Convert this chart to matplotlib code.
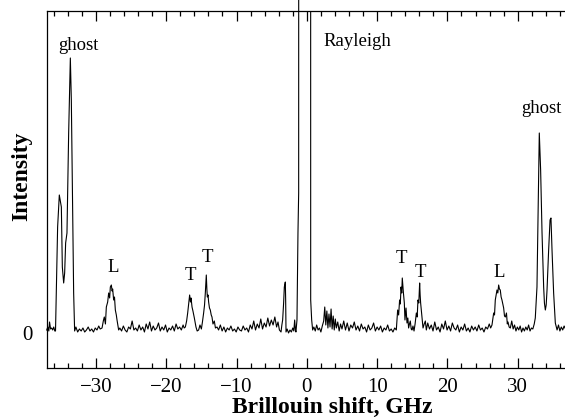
import matplotlib
matplotlib.use('Agg')
import matplotlib.pyplot as plt
from matplotlib.ticker import MultipleLocator
import numpy as np

plt.rcParams['font.family'] = ['Liberation Serif', 'DejaVu Serif']

# Brillouin spectrum (shift in GHz, intensity in arb. units)
shift = np.array([
    # left edge + ghost
    -37.0, -36.85, -36.7, -36.6, -36.45, -36.3, -36.15, -36.0, -35.85, -35.75,
    -35.45, -35.21, -34.92, -34.78, -34.59, -34.45, -34.31, -34.12, -33.88, -33.64,
    -33.50, -33.31, -33.17, -33.03,
    -32.85, -32.6, -32.35, -32.1, -31.85, -31.6, -31.35, -31.1, -30.85, -30.6,
    -30.35, -30.1, -29.85, -29.6, -29.4,
    # L
    -29.13, -28.95, -28.81, -28.65, -28.52, -28.33, -28.19, -28.05, -27.95, -27.81,
    -27.7, -27.62, -27.48, -27.36, -27.24, -27.1, -27.0, -26.88, -26.77,
    -26.6, -26.35, -26.1, -25.85, -25.6, -25.35, -25.1, -24.85, -24.6, -24.35,
    -24.1, -23.85, -23.6, -23.35, -23.1, -22.85, -22.6, -22.35, -22.1, -21.85,
    -21.6, -21.35, -21.1, -20.85, -20.6, -20.35, -20.1, -19.85, -19.6, -19.35,
    -19.1, -18.85, -18.6, -18.35, -18.1, -17.85, -17.6, -17.45,
    # T, T
    -17.28, -17.1, -16.95, -16.8, -16.67, -16.55, -16.47, -16.33, -16.2, -16.0,
    -15.88, -15.77, -15.6, -15.39, -15.2, -15.0, -14.85, -14.68, -14.55, -14.44,
    -14.30, -14.22, -14.15, -14.05, -13.97, -13.85, -13.73, -13.6, -13.49, -13.35,
    -13.16, -13.0, -12.77,
    -12.55, -12.3, -12.05, -11.8, -11.55, -11.3, -11.05, -10.8, -10.55, -10.3,
    -10.05, -9.8, -9.55, -9.3, -9.05, -8.8, -8.55, -8.3, -8.05, -7.8,
    -7.55, -7.3, -7.05, -6.8, -6.55, -6.3, -6.05, -5.8, -5.55, -5.3,
    -5.05, -4.8, -4.55, -4.3, -4.1, -3.9, -3.67,
    -3.55, -3.44, -3.30, -3.20, -3.06, -3.01, -2.96,
    -2.8, -2.6, -2.4, -2.2, -2.0, -1.85, -1.73, -1.62, -1.55, -1.40,
    -1.26, -1.16, -1.15,
    # Rayleigh right flank
    0.54, 0.55, 0.69, 0.83,
    1.0, 1.2, 1.4, 1.6, 1.8, 2.0, 2.2, 2.4, 2.55, 2.7,
    2.85, 3.0, 3.15, 3.3, 3.45, 3.6, 3.75, 3.9, 4.05, 4.2,
    4.4, 4.6, 4.8, 5.0, 5.25, 5.5, 5.75, 6.0, 6.25, 6.5,
    6.75, 7.0, 7.25, 7.5, 7.75, 8.0, 8.25, 8.5, 8.75, 9.0,
    9.25, 9.5, 9.75, 10.0, 10.25, 10.5, 10.75, 11.0, 11.25, 11.5,
    11.75, 12.0, 12.25, 12.5, 12.73,
    # T, T
    12.92, 13.06, 13.2, 13.3, 13.4, 13.5, 13.58, 13.73, 13.87, 13.96,
    14.11, 14.25, 14.37, 14.48, 14.6, 14.72, 14.85, 14.96, 15.1, 15.25,
    15.4, 15.58, 15.7, 15.81, 15.93, 16.05, 16.12, 16.19, 16.33, 16.43,
    16.53, 16.7, 16.86, 17.0,
    17.2, 17.45, 17.7, 17.95, 18.2, 18.45, 18.7, 18.95, 19.2, 19.45,
    19.7, 19.95, 20.2, 20.45, 20.7, 20.95, 21.2, 21.45, 21.7, 21.95,
    22.2, 22.45, 22.7, 22.95, 23.2, 23.45, 23.7, 23.95, 24.2, 24.45,
    24.7, 24.95, 25.2, 25.45, 25.7, 25.95, 26.15,
    # L
    26.34, 26.46, 26.58, 26.7, 26.81, 26.93, 27.05, 27.17, 27.29, 27.4,
    27.52, 27.64, 27.76, 27.88, 28.0, 28.12, 28.24, 28.4, 28.52, 28.62,
    28.78, 28.95,
    29.15, 29.35, 29.55, 29.75, 29.95, 30.15, 30.35, 30.55, 30.75, 30.95,
    31.15, 31.35, 31.55, 31.75, 31.95, 32.15, 32.35,
    # ghost
    32.5, 32.74, 32.93, 33.07, 33.26, 33.46, 33.69, 33.8, 33.93, 34.05,
    34.17, 34.4, 34.6, 34.73, 34.8, 34.88, 35.11, 35.35, 35.6,
    35.8, 36.0, 36.2, 36.4, 36.6, 36.8,
])

intensity = np.array([
    3, 6, 2, 11, 4, 5, 3, 6, 2, 2,
    106, 138, 126, 66, 50, 60, 90, 100, 200, 275,
    233, 126, 40, 2,
    6, 1, 4, 2, 5, 1, 3, 6, 2, 4,
    1, 5, 3, 7, 4,
    5, 12, 16, 9, 26, 31, 40, 35, 46, 48,
    42, 44, 33, 36, 23, 18, 13, 8, 3,
    5, 2, 7, 3, 1, 6, 4, 12, 3, 5,
    2, 8, 3, 6, 1, 9, 4, 11, 2, 7,
    3, 5, 10, 2, 6, 3, 8, 1, 5, 3,
    7, 2, 9, 4, 6, 3, 8, 5,
    6, 12, 20, 30, 38, 31, 35, 26, 22, 15,
    10, 6, 2, 3, 8, 4, 11, 20, 28, 40,
    58, 44, 36, 38, 31, 25, 23, 18, 16, 9,
    12, 5, 6,
    3, 8, 2, 6, 1, 5, 3, 7, 2, 4,
    1, 6, 3, 2, 7, 3, 5, 1, 8, 4,
    12, 3, 9, 5, 14, 4, 10, 6, 15, 7,
    13, 8, 16, 6, 11, 3, 1,
    8, 13, 30, 46, 51, 33, 1,
    4, 0, 3, 1, 5, 2, 13, 3, 1, 13,
    100, 140, 700,
    700, 33, 13, 3,
    6, 2, 8, 3, 5, 1, 7, 12, 26, 8,
    22, 5, 19, 6, 24, 4, 17, 3, 14, 5,
    11, 2, 9, 4, 12, 3, 10, 2, 8, 5,
    11, 3, 7, 2, 9, 4, 6, 1, 8, 3,
    5, 10, 2, 6, 3, 7, 1, 5, 3, 8,
    2, 4, 1, 5, 3,
    23, 18, 33, 29, 46, 40, 55, 41, 30, 13,
    25, 10, 15, 5, 9, 12, 4, 3, 7, 2,
    9, 20, 16, 33, 30, 50, 38, 30, 20, 13,
    5, 9, 12, 3,
    10, 4, 8, 2, 11, 3, 6, 1, 9, 4,
    12, 3, 7, 2, 10, 5, 3, 8, 1, 6,
    3, 9, 2, 5, 1, 7, 3, 6, 2, 8,
    3, 5, 1, 6, 4, 9, 5,
    8, 14, 20, 18, 33, 38, 43, 40, 48, 44,
    43, 36, 33, 29, 25, 17, 16, 20, 9, 11,
    6, 5,
    12, 4, 8, 2, 6, 3, 7, 1, 5, 2,
    6, 3, 8, 2, 5, 4, 9,
    15, 46, 133, 200, 163, 100, 46, 30, 23, 28,
    43, 83, 113, 115, 100, 83, 40, 10, 3,
    8, 2, 6, 3, 7, 4,
])

# peak labels: text, shift, intensity (baseline of text)
labels = ['ghost', 'Rayleigh', 'ghost', 'L', 'T', 'T', 'T', 'T', 'L']
label_x = [-32.5, 2.3, 33.4, -27.5, -16.6, -14.2, 13.5, 16.1, 27.4]
label_y = [283, 287, 220, 61, 53, 71, 70, 56, 56]
label_ha = ['center', 'left', 'center', 'center', 'center', 'center', 'center', 'center', 'center']

fig = plt.figure(figsize=(5.65, 4.18), dpi=100)
ax = fig.add_axes([0.0827, 0.1189, 0.9207, 0.8548])

left = shift < 0
# left Rayleigh flank runs past the top frame in the original
ax.plot(shift[left], intensity[left], color='black', lw=0.8, clip_on=False)
ax.plot(shift[~left], intensity[~left], color='black', lw=0.8)

for t, x, y, ha in zip(labels, label_x, label_y, label_ha):
    ax.text(x, y, t, ha=ha, va='baseline', fontsize=13.5)

ax.set_xlim(-37, 37)
ax.set_ylim(-35.3, 322)

ax.xaxis.set_major_locator(MultipleLocator(10))
ax.xaxis.set_minor_locator(MultipleLocator(2))
ax.tick_params(axis='x', which='both', direction='in', top=True, labelsize=15, pad=7)
ax.tick_params(axis='x', which='major', length=7, width=0.9)
ax.tick_params(axis='x', which='minor', length=3.6, width=0.9)

ax.set_yticks([0])
ax.set_yticklabels(['0'])
ax.tick_params(axis='y', which='both', length=0, labelsize=15, pad=10)

for sp in ax.spines.values():
    sp.set_linewidth(0.9)

ax.set_xlabel('Brillouin shift, GHz', fontsize=17, fontweight='bold', va='baseline')
ax.xaxis.set_label_coords(0.549, -0.125)
ax.set_ylabel('Intensity', fontsize=17, fontweight='bold', va='center')
ax.yaxis.set_label_coords(-0.048, 0.538)

fig.savefig('out.png', dpi=100)
